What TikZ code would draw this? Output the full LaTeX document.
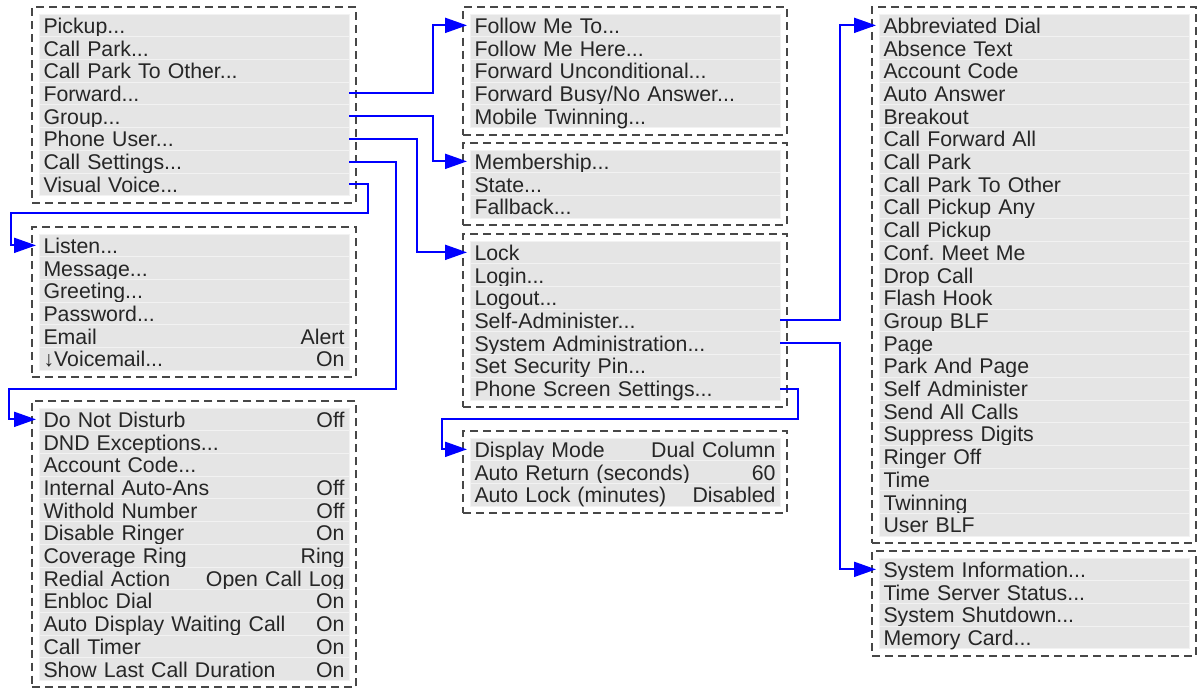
\documentclass[tikz,border=0pt]{standalone}
\usepackage{fontspec}
\setmainfont{Liberation Sans}
\usetikzlibrary{arrows.meta,fit}
\newcommand{\mdots}{...}
\frenchspacing
\begin{document}
\begin{tikzpicture}[x=1pt,y=-1pt,
  font=\fontsize{21.3}{22.7}\selectfont,
  row/.style={anchor=north west,fill=black!10,draw=black!5,line width=0.8pt,
    minimum width=310pt,minimum height=22.7pt,inner xsep=4.5pt,inner ysep=0pt,outer sep=0pt,
    text width=301pt,align=left,text height=19.3pt,text depth=3.4pt,text=black!85},
  menubox/.style={draw=black!72,line width=2pt,dash pattern=on 8pt off 5pt,inner sep=7pt},
  link/.style={blue,line width=2pt,-{Triangle[length=22pt,width=15pt]},shorten >=3pt}]
\useasboundingbox (0,0) rectangle (1198,688);

% phone menu
\foreach \t [count=\i] in {Pickup\mdots,Call Park\mdots,Call Park To Other\mdots,Forward\mdots,Group\mdots,Phone User\mdots,Call Settings\mdots,Visual Voice\mdots}
  \node[row] (main\i) at (39,{14+22.7*(\i-1)}) {\t};
\node[menubox,fit=(main1)(main8)] (mainbox) {};

% visual voice
\foreach \t/\v [count=\i] in {Listen\mdots/,Message\mdots/,Greeting\mdots/,Password\mdots/,Email/Alert,↓Voicemail\mdots/On}
  \node[row] (vv\i) at (39,{234+22.7*(\i-1)}) {\t\hfill\v};
\node[menubox,fit=(vv1)(vv6)] (vvbox) {};

% call settings
\foreach \t/\v [count=\i] in {Do Not Disturb/Off,DND Exceptions\mdots/,Account Code\mdots/,Internal Auto-Ans/Off,
    Withold Number/Off,Disable Ringer/On,Coverage Ring/Ring,Redial Action/Open Call Log,Enbloc Dial/On,
    Auto Display Waiting Call/On,Call Timer/On,Show Last Call Duration/On}
  \node[row] (cs\i) at (39,{408+22.7*(\i-1)}) {\t\hfill\v};
\node[menubox,fit=(cs1)(cs12)] (csbox) {};

% forward
\foreach \t [count=\i] in {Follow Me To\mdots,Follow Me Here\mdots,Forward Unconditional\mdots,Forward Busy/No Answer\mdots,Mobile Twinning\mdots}
  \node[row] (fw\i) at (470,{14+22.7*(\i-1)}) {\t};
\node[menubox,fit=(fw1)(fw5)] (fwbox) {};

% group
\foreach \t [count=\i] in {Membership\mdots,State\mdots,Fallback\mdots}
  \node[row] (grp\i) at (470,{150+22.7*(\i-1)}) {\t};
\node[menubox,fit=(grp1)(grp3)] (grpbox) {};

% phone user
\foreach \t [count=\i] in {Lock,Login\mdots,Logout\mdots,Self-Administer\mdots,System Administration\mdots,Set Security Pin\mdots,Phone Screen Settings\mdots}
  \node[row] (pu\i) at (470,{241+22.7*(\i-1)}) {\t};
\node[menubox,fit=(pu1)(pu7)] (pubox) {};

% phone screen settings
\foreach \t/\v [count=\i] in {Display Mode/Dual Column,Auto Return (seconds)/60,Auto Lock (minutes)/Disabled}
  \node[row] (pss\i) at (470,{438+22.7*(\i-1)}) {\t\hfill\v};
\node[menubox,fit=(pss1)(pss3)] (pssbox) {};

% self-administer
\foreach \t [count=\i] in {Abbreviated Dial,Absence Text,Account Code,Auto Answer,Breakout,Call Forward All,
    Call Park,Call Park To Other,Call Pickup Any,Call Pickup,Conf. Meet Me,Drop Call,Flash Hook,Group BLF,
    Page,Park And Page,Self Administer,Send All Calls,Suppress Digits,Ringer Off,Time,Twinning,User BLF}
  \node[row] (sa\i) at (879,{14+22.7*(\i-1)}) {\t};
\node[menubox,fit=(sa1)(sa23)] (sabox) {};

% system administration
\foreach \t [count=\i] in {System Information\mdots,Time Server Status\mdots,System Shutdown\mdots,Memory Card\mdots}
  \node[row] (sys\i) at (879,{558+22.7*(\i-1)}) {\t};
\node[menubox,fit=(sys1)(sys4)] (sysbox) {};

% links
\coordinate (vvbend) at (11,213);
\coordinate (csbend) at (9,389);
\coordinate (pssbend) at (442,419);
\draw[link] (main4.east) -- ++(84,0) |- (fw1.west);
\draw[link] (main5.east) -- ++(84,0) |- (grp1.west);
\draw[link] (main6.east) -- ++(68,0) |- (pu1.west);
\draw[link] (main7.east) -- ++(47,0) |- (csbend) |- (cs1.west);
\draw[link] (main8.east) -- ++(19,0) |- (vvbend) |- (vv1.west);
\draw[link] (pu7.east) -- ++(18,0) |- (pssbend) |- (pss1.west);
\draw[link] (pu4.east) -- ++(60,0) |- (sa1.west);
\draw[link] (pu5.east) -- ++(60,0) |- (sys1.west);
\end{tikzpicture}
\end{document}
